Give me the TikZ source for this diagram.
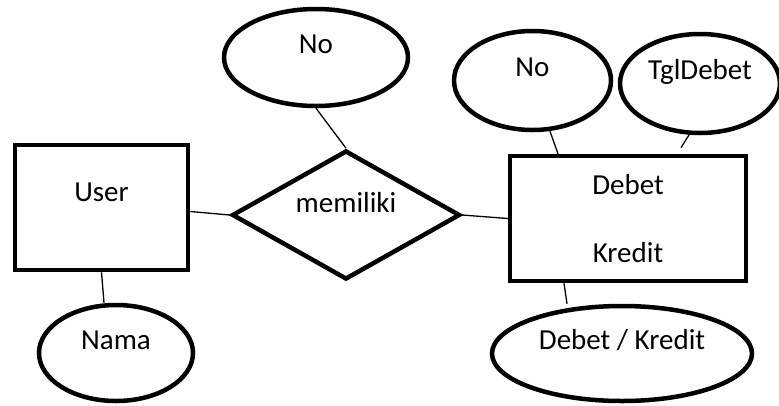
\documentclass[tikz,border=0pt]{standalone}
\usepackage{fontspec}
\setmainfont{Carlito}
\usetikzlibrary{shapes}

\begin{document}
\begin{tikzpicture}[
    x=1pt, y=-1pt,
    font=\fontsize{29}{35}\selectfont,
    entity/.style={draw, line width=4.5pt, rectangle, inner sep=0pt, align=center},
    attr/.style={draw, line width=4.5pt, ellipse, inner sep=0pt, text height=20pt, text depth=28pt},
    rel/.style={draw, line width=4.5pt, diamond, aspect=1.8, inner sep=0pt, text height=20pt, text depth=25pt},
    link/.style={line width=1.3pt}
]
\useasboundingbox (0,0) rectangle (779,405);

% Entities
\node[entity, minimum width=173pt, minimum height=125pt, text height=20pt, text depth=32pt] (user) at (101.5,207.5) {User};
\node[entity, minimum width=236pt, minimum height=125pt] (debet) at (628,218.5) {Debet\\[32.7pt]Kredit};

% Relation
\node[rel, minimum width=228pt, minimum height=129pt] (memiliki) at (346,215) {memiliki};

% Attributes
\node[attr, minimum width=184pt, minimum height=97pt] (relno) at (316,57.5) {No};
\node[attr, minimum width=154pt, minimum height=96pt] (nama) at (116,353) {Nama};
\node[attr, minimum width=157pt, minimum height=99pt] (debetno) at (532.5,80.5) {No};
\node[attr, minimum width=160pt, minimum height=99pt] (tgldebet) at (700,83.5) {TglDebet};
\node[attr, minimum width=260pt, minimum height=95pt] (jenis) at (622,353.5) {Debet / Kredit};

% Links
\draw[link] ([yshift=-4pt]user.east) -- (memiliki.west);
\draw[link] (memiliki.east) -- (debet.west);
\draw[link] (relno.south) -- (memiliki.north);
\draw[link] (user.south) -- ([xshift=-12pt]nama.north);
\draw[link] (debetno.-71) -- ([xshift=-70pt]debet.north);
\draw[link] (tgldebet.-102) -- ([xshift=53pt,yshift=6pt]debet.north);
\draw[link] ([xshift=-64pt]debet.south) -- ([xshift=-55pt]jenis.north);
\end{tikzpicture}
\end{document}
